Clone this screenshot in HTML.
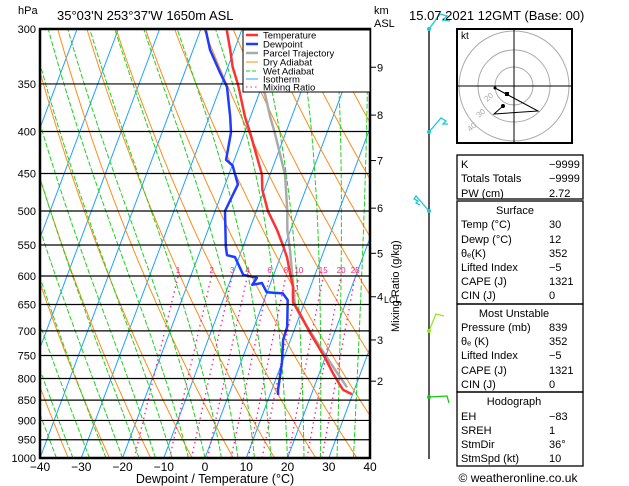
<!DOCTYPE html>
<html><head><meta charset="utf-8"><style>
html,body{margin:0;padding:0;background:#fff;}
svg{display:block;font-family:"Liberation Sans",sans-serif;}
</style></head><body>
<svg id="c" width="629" height="486" viewBox="0 0 629 486"></svg>
<script>
// ---- data ----
const tempP = [836,826,815,788,755,704,666,646,633,619,595,570,550,527,500,471,451,401,384,351,334,318,301];
const tempT = [29.8,27.3,26.1,23.3,20,14.1,9.8,7.2,6.5,5.8,3.8,1.7,-0.5,-3.3,-7.2,-10.5,-12,-18.7,-21.3,-25.9,-28.8,-31,-33.6];
const dewP = [838,826,797,766,718,692,642,630,628,612,615,603,598,569,566,552,500,464,440,433,401,384,353,339,318,301];
const dewT = [12,11.5,10.8,10,8.2,8,5.7,3.9,-0.1,-2.1,-4.3,-3.8,-7.4,-11,-13.1,-14.2,-17.6,-16.9,-19.9,-22,-23.3,-24.9,-28.4,-31.4,-35.9,-38.7];
const parcelP = [820,755,670,651,558,527,500,451,401,384,361,341];
const parcelT = [28,20.5,10,7.9,1.7,-0.8,-2.5,-6.4,-12.7,-15.2,-18.4,-22];
const isobars = [300,350,400,450,500,550,600,650,700,750,800,850,900,950,1000];
const xTicks = [-40,-30,-20,-10,0,10,20,30,40];
const kmLabels = [9,8,7,6,5,4,3,2];
const kmP = [334,382,434,496,563,636,718,806];
const mixRatios = [1,2,3,4,6,8,10,15,20,25];
const mixLabels = ["1","2","3","4","6","8","10","15","20","25"];

// ---- axes ----
const X0=40,X1=370,Y0=29,Y1=458;
const K=(Y1-Y0)/Math.log(1000/300);
function yP(p){return Y0+Math.log(p/300)*K;}
function xT(T,p){return X0+(T+40)*4.125+(Y1-yP(p))*0.375;}
const NS="http://www.w3.org/2000/svg";
const svg=document.getElementById('c');
function el(tag,attrs,parent){const e=document.createElementNS(NS,tag);for(const k in attrs)e.setAttribute(k,attrs[k]);(parent||svg).appendChild(e);return e;}
function txt(s,attrs,parent){const e=el('text',attrs,parent);e.textContent=s;return e;}

const defs=el('defs',{});
const cp=el('clipPath',{id:'plotclip'},defs);
el('rect',{x:X0,y:Y0,width:X1-X0,height:Y1-Y0},cp);
const plot=el('g',{'clip-path':'url(#plotclip)'});



function pathFrom(pts){return pts.map((q,i)=>(i?'L':'M')+q[0].toFixed(1)+' '+q[1].toFixed(1)).join('');}
const pLevels=[];for(let p=1000;p>=290;p-=5)pLevels.push(p);

// isotherms
for(let T=-120;T<=40;T+=10){
  const l=el('line',{x1:xT(T,1000),y1:yP(1000),x2:xT(T,300),y2:yP(300),stroke:'#1ea0ff','stroke-width':1},plot);
  
  
}
// dry adiabats
for(let th=230;th<=480;th+=10){
  const pts=pLevels.map(p=>[xT(th*Math.pow(p/1000,0.286)-273.15,p),yP(p)]);
  const e=el('path',{d:pathFrom(pts),fill:'none',stroke:'#ff8c1a','stroke-width':1},plot);
  
  
}
// wet adiabats
function es(T){return 6.112*Math.exp(17.67*T/(T+243.5));}
for(let T0=-36;T0<=40;T0+=4){
  let T=T0,pts=[];
  for(let p=1000;p>=290;p-=2){
    pts.push([xT(T,p),yP(p)]);
    const Tk=T+273.15,r=0.622*es(T)/(p-es(T));
    const num=287*Tk+2.5e6*r, den=1004+2.5e6*2.5e6*r*0.622/(287*Tk*Tk);
    T-=num/den/p*2;
  }
  const e=el('path',{d:pathFrom(pts),fill:'none',stroke:'#1ed21e','stroke-width':1,'stroke-dasharray':'5,2'},plot);
  
  
}
// mixing ratio
mixRatios.forEach((w,i)=>{
  const pts=[];
  for(let p=1000;p>=600;p-=10){const e=w*p/(622+w),L=Math.log(e/6.112);pts.push([xT(243.5*L/(17.67-L),p),yP(p)]);}
  const e=el('path',{d:pathFrom(pts),fill:'none',stroke:'#ff1e8c','stroke-width':1.3,'stroke-dasharray':'1.5,3.5'},plot);
  
  
  const p=600,ee=w*p/(622+w),L=Math.log(ee/6.112);
  const t=txt(mixLabels[i],{x:xT(243.5*L/(17.67-L),p),y:yP(p)-3,'font-size':8,fill:'#ff1e8c','text-anchor':'middle'});
  
  
});
// isobars
isobars.forEach(p=>{
  const l=el('line',{x1:X0,x2:X1,y1:yP(p),y2:yP(p),stroke:'#000','stroke-width':1.2});
  
  
  const t=txt(String(p),{x:36,y:yP(p)+4,'font-size':11,'text-anchor':'end',fill:'#000'});
  
  
});
// profiles
function profile(P,T,color,w,name){
  const pts=P.map((p,i)=>[xT(T[i],p),yP(p)]);
  const e=el('path',{d:pathFrom(pts),fill:'none',stroke:color,'stroke-width':w,'stroke-linejoin':'round'},plot);
  
  
}
profile(parcelP,parcelT,'#aaaaaa',2.5,'parcel-trajectory-line');
profile(tempP,tempT,'#ff3030',2.5,'temperature-line');
profile(dewP,dewT,'#1e3cff',2.5,'dewpoint-line');

// frame
const fr=el('rect',{x:X0,y:Y0,width:X1-X0,height:Y1-Y0,fill:'none',stroke:'#000','stroke-width':2.5});


// x ticks
xTicks.forEach(T=>{
  const t=txt((T<0?'\u2212':'')+Math.abs(T),{x:X0+(T+40)*4.125,y:471,'font-size':12,'text-anchor':'middle'});
  
  
});
// km axis
kmLabels.forEach((k,i)=>{
  const y=yP(kmP[i]);
  const l=el('line',{x1:370,x2:376,y1:y,y2:y,stroke:'#000'});
  
  
  const t=txt(String(k),{x:377,y:y+4,'font-size':11});
  
  
});
// wind barbs
function poly(pts,color,name){const e=el('polyline',{points:pts.map(q=>q.join(',')).join(' '),fill:'none',stroke:color,'stroke-width':1.3});}
const wl=el('line',{x1:429,x2:429,y1:29,y2:459,stroke:'#000','stroke-width':1.3});


const cy='#1ec8d2';
poly([[429,29],[440,14],[447,16],[443,20],[450,21]],cy,'wind-barb');
poly([[429,132],[441,118],[446,121],[443,124],[448,124]],cy,'wind-barb');
poly([[429,211],[416,196],[414,199],[418,201],[416,203],[420,205]],cy,'wind-barb');
poly([[429,331],[436,314],[444,316]],'#96e61e','wind-barb');
poly([[429,397],[447,396],[449,403]],'#14c814','wind-barb');
[[29,cy],[132,cy],[211,cy],[331,'#96e61e'],[397,'#14c814']].forEach(d=>{const c=el('circle',{cx:429,cy:d[0],r:2,fill:d[1]});});
</script>
<svg width="629" height="486" style="position:absolute;left:0;top:0">
<g font-family="Liberation Sans, sans-serif" fill="#000">
<text x="18" y="14" font-size="11">hPa</text>
<text x="57" y="20" font-size="13">35°03'N  253°37'W  1650m  ASL</text>
<text x="374" y="14" font-size="11">km</text>
<text x="374" y="27" font-size="11">ASL</text>
<text x="409" y="20" font-size="13">15.07.2021  12GMT  (Base: 00)</text>
<text x="215" y="483" font-size="12.5" text-anchor="middle">Dewpoint / Temperature (°C)</text>
<text x="384" y="303" font-size="9">LCL</text>
<text transform="translate(399,332) rotate(-90)" font-size="11">Mixing Ratio (g/kg)</text>
</g>
<g font-family="Liberation Sans, sans-serif" font-size="9.5">
<rect x="243" y="30" width="127" height="62" fill="#fff" stroke="#000" stroke-width="1"/>
<line x1="246" x2="258" y1="35" y2="35" stroke="#ff3030" stroke-width="2.5"/><text x="263" y="38.5">Temperature</text>
<line x1="246" x2="258" y1="44" y2="44" stroke="#1e3cff" stroke-width="2.5"/><text x="263" y="47.5">Dewpoint</text>
<line x1="246" x2="258" y1="53" y2="53" stroke="#aaa" stroke-width="2.5"/><text x="263" y="56.5">Parcel Trajectory</text>
<line x1="246" x2="258" y1="62" y2="62" stroke="#ff8c1a"/><text x="263" y="65.5">Dry Adiabat</text>
<line x1="246" x2="258" y1="71" y2="71" stroke="#1ed21e" stroke-dasharray="4,2"/><text x="263" y="74.5">Wet Adiabat</text>
<line x1="246" x2="258" y1="79" y2="79" stroke="#1ea0ff"/><text x="263" y="82.5">Isotherm</text>
<line x1="246" x2="258" y1="87" y2="87" stroke="#ff1e8c" stroke-dasharray="1.5,3"/><text x="263" y="90.5">Mixing Ratio</text>
</g>
<g>
<rect x="457" y="29" width="115" height="114" fill="#fff" stroke="#000" stroke-width="2"/>
<circle cx="514" cy="86" r="19" fill="none" stroke="#aaa"/>
<circle cx="514" cy="86" r="36" fill="none" stroke="#aaa"/>
<circle cx="514" cy="86" r="55" fill="none" stroke="#aaa"/>
<line x1="457" x2="572" y1="86" y2="86" stroke="#000"/>
<line x1="514" x2="514" y1="29" y2="143" stroke="#000"/>
<polyline points="495,88 508,95 538,111 494,114 503,106" fill="none" stroke="#000"/>
<circle cx="503" cy="106" r="2" fill="#000"/><circle cx="495" cy="88" r="1.5" fill="#000"/>
<rect x="505" y="92" width="4" height="4" fill="#000"/>
<text x="461" y="39" font-size="10" font-family="Liberation Sans, sans-serif">kt</text>
<text x="487" y="102" font-size="8" fill="#aaa" font-family="Liberation Sans, sans-serif" transform="rotate(-40 487 102)">20</text>
<text x="479" y="118" font-size="8" fill="#aaa" font-family="Liberation Sans, sans-serif" transform="rotate(-40 479 118)">30</text>
<text x="470" y="132" font-size="8" fill="#aaa" font-family="Liberation Sans, sans-serif" transform="rotate(-40 470 132)">40</text>
</g>
<g font-family="Liberation Sans, sans-serif" font-size="11" fill="#000">
<rect x="457" y="155" width="126" height="44" fill="none" stroke="#000" stroke-width="1.3"/>
<rect x="457" y="201" width="126" height="103" fill="none" stroke="#000" stroke-width="1.3"/>
<rect x="457" y="304" width="126" height="88" fill="none" stroke="#000" stroke-width="1.3"/>
<rect x="457" y="392" width="126" height="74" fill="none" stroke="#000" stroke-width="1.3"/>
<text x="461" y="168">K</text><text x="549" y="168">−9999</text>
<text x="461" y="182">Totals Totals</text><text x="549" y="182">−9999</text>
<text x="461" y="197">PW (cm)</text><text x="549" y="197">2.72</text>
<text x="515" y="214" text-anchor="middle">Surface</text>
<text x="461" y="228">Temp (°C)</text><text x="549" y="228">30</text>
<text x="461" y="243">Dewp (°C)</text><text x="549" y="243">12</text>
<text x="461" y="257">θₑ(K)</text><text x="549" y="257">352</text>
<text x="461" y="271">Lifted Index</text><text x="549" y="271">−5</text>
<text x="461" y="285">CAPE (J)</text><text x="549" y="285">1321</text>
<text x="461" y="299">CIN (J)</text><text x="549" y="299">0</text>
<text x="514" y="317" text-anchor="middle">Most Unstable</text>
<text x="461" y="331">Pressure (mb)</text><text x="549" y="331">839</text>
<text x="461" y="345">θₑ (K)</text><text x="549" y="345">352</text>
<text x="461" y="359">Lifted Index</text><text x="549" y="359">−5</text>
<text x="461" y="374">CAPE (J)</text><text x="549" y="374">1321</text>
<text x="461" y="388">CIN (J)</text><text x="549" y="388">0</text>
<text x="514" y="405" text-anchor="middle">Hodograph</text>
<text x="461" y="420">EH</text><text x="549" y="420">−83</text>
<text x="461" y="434">SREH</text><text x="549" y="434">1</text>
<text x="461" y="448">StmDir</text><text x="549" y="448">36°</text>
<text x="461" y="462">StmSpd (kt)</text><text x="549" y="462">10</text>
<text x="518" y="482" text-anchor="middle" font-size="12">© weatheronline.co.uk</text>
</g>
</svg>
</body></html>
